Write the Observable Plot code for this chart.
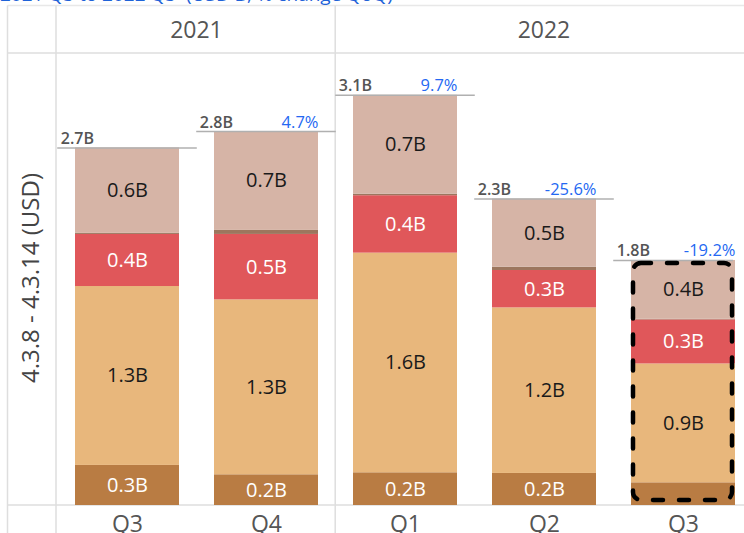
<!DOCTYPE html>
<html>
<head>
<meta charset="utf-8">
<script src="https://cdn.jsdelivr.net/npm/d3@7"></script>
<script src="https://cdn.jsdelivr.net/npm/@observablehq/plot@0.6"></script>
<style>
  html, body { margin: 0; padding: 0; background: #fff; overflow: hidden; }
  #wrap { position: relative; width: 744px; height: 533px; overflow: hidden; }
  #wrap svg { position: absolute; left: 0; top: 0; }
  #title { position: absolute; left: 0; top: -19px; font: 19px/26px 'Open Sans', sans-serif; color: #1f63d8; white-space: nowrap; z-index: 2; }
</style>
</head>
<body>
<div id="wrap"><div id="title">2021 Q3 to 2022 Q3&nbsp; (USD B, % change QoQ)</div></div>
<script>
// ---- data ----
const quarters = ["2021 Q3", "2021 Q4", "2022 Q1", "2022 Q2", "2022 Q3"];
const quarterLabels = ["Q3", "Q4", "Q1", "Q2", "Q3"];
const yearLabels = ["2021", "2022"];
const yearOfQuarter = ["2021", "2021", "2022", "2022", "2022"];
const segmentNames = ["Segment 1", "Segment 2", "Segment 3", "Segment 4", "Segment 5"];
const segmentColors = ["#b97c43", "#e8b77c", "#e0575a", "#9c765e", "#d6b4a6"];
const segmentLabelColors = ["white", "#1a1a1a", "white", null, "#1a1a1a"];
const seg1 = [0.30, 0.23, 0.245, 0.24, 0.17];
const seg2 = [1.34, 1.31, 1.645, 1.24, 0.89];
const seg3 = [0.39, 0.49, 0.43, 0.28, 0.33];
const seg4 = [0.008, 0.03, 0.012, 0.025, 0.005];
const seg5 = [0.64, 0.74, 0.74, 0.51, 0.44];
const pctChange = [null, 4.7, 9.7, -25.6, -19.2];
const highlighted = ["2022 Q3"];
const yAxisTitle = "4.3.8 - 4.3.14 (USD)";

// ---- tables ----
const segValues = [seg1, seg2, seg3, seg4, seg5];
const rows = [];
quarters.forEach((q, i) => {
  segmentNames.forEach((s, j) => {
    rows.push({q, seg: s, value: segValues[j][i], labelColor: segmentLabelColors[j]});
  });
});
const totals = quarters.map((q, i) => ({
  q, total: d3.sum(segValues, arr => arr[i]), pct: pctChange[i]
}));
const fmt = d3.format(".1f");

// ---- layout ----
const X_RANGE = [56, 753.5];
const PAD = 0.255;
const step = (X_RANGE[1] - X_RANGE[0]) / quarters.length;
const bw = step * (1 - PAD);
const gap = (step - bw) / 2;

const labelText = color => d =>
  (d.labelColor === color && d.value >= 0.2) ? fmt(d.value) + "B" : null;

const lastQ = quarters[quarters.length - 1];

const plot = Plot.plot({
  width: 744, height: 533,
  marginTop: 51, marginBottom: 28, marginLeft: 56, marginRight: 0,
  style: {fontFamily: "'Open Sans', sans-serif", background: "transparent", overflow: "visible"},
  x: {type: "band", domain: quarters, range: X_RANGE, paddingInner: PAD, paddingOuter: PAD / 2, axis: null},
  y: {domain: [0, 3.4], axis: null},
  color: {domain: segmentNames, range: segmentColors},
  marks: [
    Plot.barY(rows, {x: "q", y: "value", fill: "seg"}),
    Plot.text(rows, Plot.stackY({x: "q", y: "value", z: "seg", text: labelText("white"), fill: "white", fontSize: 20})),
    Plot.text(rows, Plot.stackY({x: "q", y: "value", z: "seg", text: labelText("#1a1a1a"), fill: "#1a1a1a", fontSize: 20})),
    Plot.tickY(totals.filter(d => d.q !== lastQ), {x: "q", y: "total", stroke: "#b0b0b0", strokeWidth: 1.5, insetLeft: -gap, insetRight: -gap}),
    Plot.tickY(totals.filter(d => d.q === lastQ), {x: "q", y: "total", stroke: "#b0b0b0", strokeWidth: 1.5, insetLeft: -gap, insetRight: 2}),
    Plot.text(totals, {x: "q", y: "total", text: d => fmt(d.total) + "B", textAnchor: "start", lineAnchor: "bottom",
      dx: -step / 2 + 3, dy: -4, fill: "#555", fontWeight: 600, fontSize: 16}),
    Plot.text(totals.filter(d => d.pct != null), {x: "q", y: "total", text: d => d.pct.toFixed(1) + "%", textAnchor: "end", lineAnchor: "bottom",
      dx: bw / 2, dy: -4, fill: "#2468f2", fontSize: 16.5}),
    Plot.barY(totals.filter(d => highlighted.includes(d.q)), {x: "q", y: "total", fill: "none", stroke: "black",
      strokeWidth: 4.5, strokeDasharray: "10,16", strokeLinecap: "round", rx: 8,
      insetLeft: 2, insetRight: 3, insetTop: 3, insetBottom: 5}),
    Plot.axisX({tickSize: 0, tickPadding: 10, tickFormat: q => quarterLabels[quarters.indexOf(q)], fontSize: 23, color: "#555", label: null})
  ]
});

document.getElementById("wrap").prepend(plot);

// ---- table frame, headers and axis title, positioned from the scales ----
const sx = plot.scale("x"), sy = plot.scale("y");
const xs = q => sx.apply ? sx.apply(q) : X_RANGE[0] + gap + quarters.indexOf(q) * step;
const y0 = sy.apply ? sy.apply(0) : 505;
const svg = d3.select(plot);
const g = svg.insert("g", ":first-child").attr("stroke", "#dedede").attr("stroke-width", 1.5);
const H = 533, W = 744, TOP = 5.5, LEFT = 7.5, HEADER = 53;
g.append("line").attr("x1", LEFT).attr("x2", W).attr("y1", TOP).attr("y2", TOP).attr("stroke", "#e8e8e8");
g.append("line").attr("x1", LEFT).attr("x2", LEFT).attr("y1", TOP).attr("y2", H);
g.append("line").attr("x1", X_RANGE[0]).attr("x2", X_RANGE[0]).attr("y1", TOP).attr("y2", H);
yearLabels.slice(1).forEach(y => {
  const first = quarters[yearOfQuarter.indexOf(y)];
  const x = xs(first) - gap;
  g.append("line").attr("x1", x).attr("x2", x).attr("y1", TOP).attr("y2", H);
});
g.append("line").attr("x1", LEFT).attr("x2", W).attr("y1", HEADER).attr("y2", HEADER);
g.append("line").attr("x1", LEFT).attr("x2", W).attr("y1", y0).attr("y2", y0);

yearLabels.forEach(y => {
  const qs = quarters.filter((q, i) => yearOfQuarter[i] === y);
  const cx = d3.mean(qs, q => xs(q) + bw / 2);
  svg.append("text").attr("x", cx).attr("y", 29).attr("text-anchor", "middle")
    .attr("dominant-baseline", "central").attr("fill", "#555")
    .style("font", "23px 'Open Sans', sans-serif").text(y);
});

svg.append("text").attr("transform", "translate(29,278) rotate(-90)")
  .attr("text-anchor", "middle").attr("dominant-baseline", "central").attr("fill", "#444")
  .style("font", "24px 'Open Sans', sans-serif").text(yAxisTitle);
</script>
</body>
</html>
